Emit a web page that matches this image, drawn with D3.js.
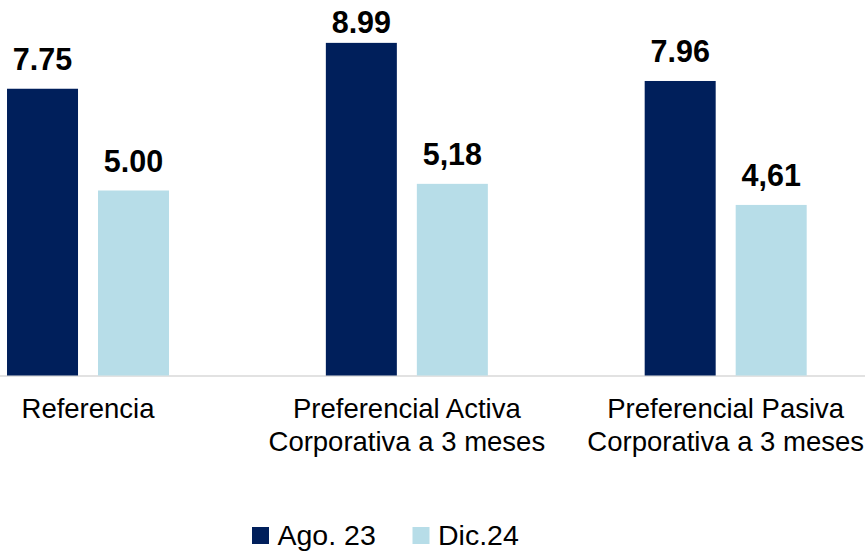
<!DOCTYPE html>
<html>
<head>
<meta charset="utf-8">
<script src="https://cdn.jsdelivr.net/npm/d3@7"></script>
<style>
  html, body { margin: 0; padding: 0; background: #ffffff; }
  svg { display: block; font-family: "Liberation Sans", Arial, sans-serif; }
</style>
</head>
<body>
<svg id="chart" width="865" height="553"></svg>
<script>
// ---- data ----
const categories = [
  ["Referencia"],
  ["Preferencial Activa", "Corporativa a 3 meses"],
  ["Preferencial Pasiva", "Corporativa a 3 meses"]
];
const seriesNames = ["Ago. 23", "Dic.24"];
const ago23 = [7.75, 8.99, 7.96];
const dic24 = [5.00, 5.18, 4.61];
const ago23Labels = ["7.75", "8.99", "7.96"];
const dic24Labels = ["5.00", "5,18", "4,61"];
const colors = ["#001f5b", "#b7dde8"];

// ---- layout ----
const W = 865, H = 553;
const baseY = 375.5;
const svg = d3.select("#chart");

const catKeys = categories.map(c => c.join(" "));
const x0 = d3.scaleBand().domain(catKeys).range([-71.4, 885.1]).paddingInner(0).paddingOuter(0);
const x1 = d3.scaleBand().domain(seriesNames).range([0, 162]).paddingInner(20 / 91).paddingOuter(0);
const y = d3.scaleLinear().domain([0, 10]).range([baseY, baseY - 370]);

const seriesData = [ago23, dic24];
const seriesLabels = [ago23Labels, dic24Labels];

// axis line
svg.append("line")
  .attr("x1", 0).attr("x2", W)
  .attr("y1", baseY + 0.5).attr("y2", baseY + 0.5)
  .attr("stroke", "#d9d9d9").attr("stroke-width", 1.5);

const groups = svg.selectAll("g.cat")
  .data(catKeys)
  .enter().append("g")
  .attr("class", "cat")
  .attr("transform", d => `translate(${x0(d) + x0.bandwidth() / 2 - 81},0)`);

seriesNames.forEach((s, si) => {
  groups.append("rect")
    .attr("x", x1(s))
    .attr("width", x1.bandwidth())
    .attr("y", (d, i) => y(seriesData[si][i]))
    .attr("height", (d, i) => baseY - y(seriesData[si][i]))
    .attr("fill", colors[si]);

  groups.append("text")
    .attr("x", x1(s) + x1.bandwidth() / 2)
    .attr("y", (d, i) => Math.max(y(seriesData[si][i]) - 19, 33))
    .attr("text-anchor", "middle")
    .attr("font-weight", "bold")
    .attr("font-size", "30.5px")
    .attr("fill", "#000")
    .text((d, i) => seriesLabels[si][i]);
});

// category labels
categories.forEach((lines, i) => {
  const cx = x0(catKeys[i]) + x0.bandwidth() / 2;
  const t = svg.append("text")
    .attr("text-anchor", "middle")
    .attr("font-size", "27.5px")
    .attr("fill", "#000");
  lines.forEach((ln, li) => {
    t.append("tspan").attr("x", cx).attr("y", 418 + li * 33).text(ln);
  });
});

// legend
const legendPos = [252, 412.5];
seriesNames.forEach((s, si) => {
  svg.append("rect")
    .attr("x", legendPos[si]).attr("y", 527)
    .attr("width", 17).attr("height", 17)
    .attr("fill", colors[si]);
  svg.append("text")
    .attr("x", legendPos[si] + 25.5).attr("y", 544.5)
    .attr("font-size", "28.5px")
    .attr("fill", "#000")
    .text(s);
});
</script>
</body>
</html>
